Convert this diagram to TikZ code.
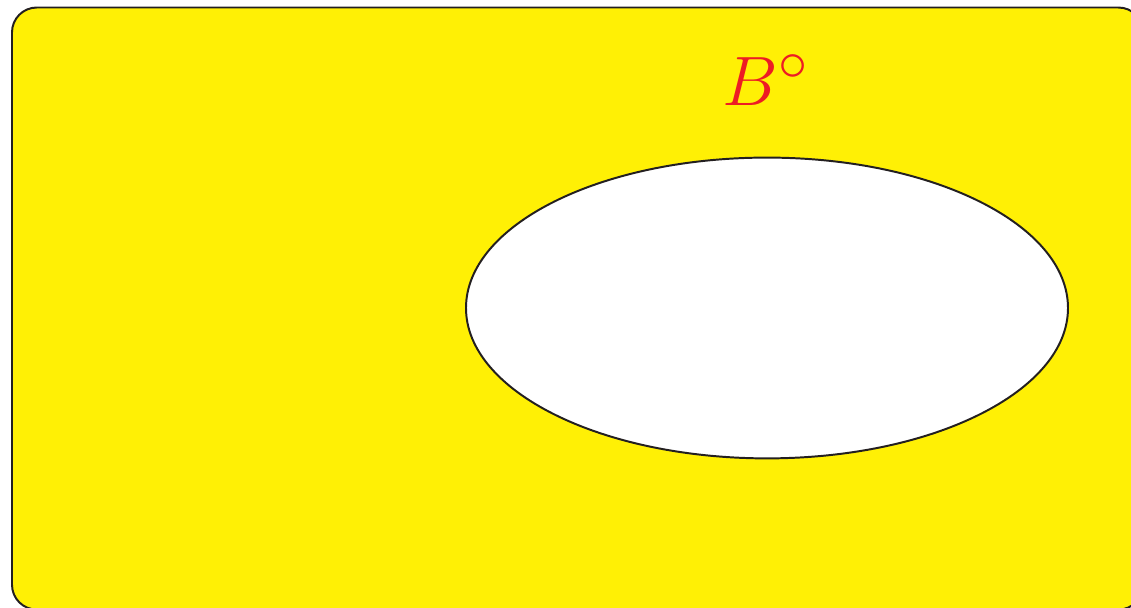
\documentclass[tikz,border=0pt]{standalone}
\usetikzlibrary{positioning,shapes.geometric}
\definecolor{Sun}{HTML}{FFF005}
\definecolor{Ink}{HTML}{231F20}
\definecolor{Scarlet}{HTML}{ED1C24}

\begin{document}
\begin{tikzpicture}[line width=0.7pt]
\useasboundingbox (0,0) rectangle (14.1375,7.6);
\draw[rounded corners=0.31cm, fill=Sun, draw=Ink] (0.15,-0.02) rectangle (14.29,7.506);
\node[ellipse, fill=white, draw=Ink, minimum width=7.525cm, minimum height=3.76cm, inner sep=0pt] (B) at (9.5875,3.75) {};
\node[text=Scarlet, anchor=base, font=\Huge] (lab) at (9.569,6.275) {$B^\circ$};
\end{tikzpicture}
\end{document}
